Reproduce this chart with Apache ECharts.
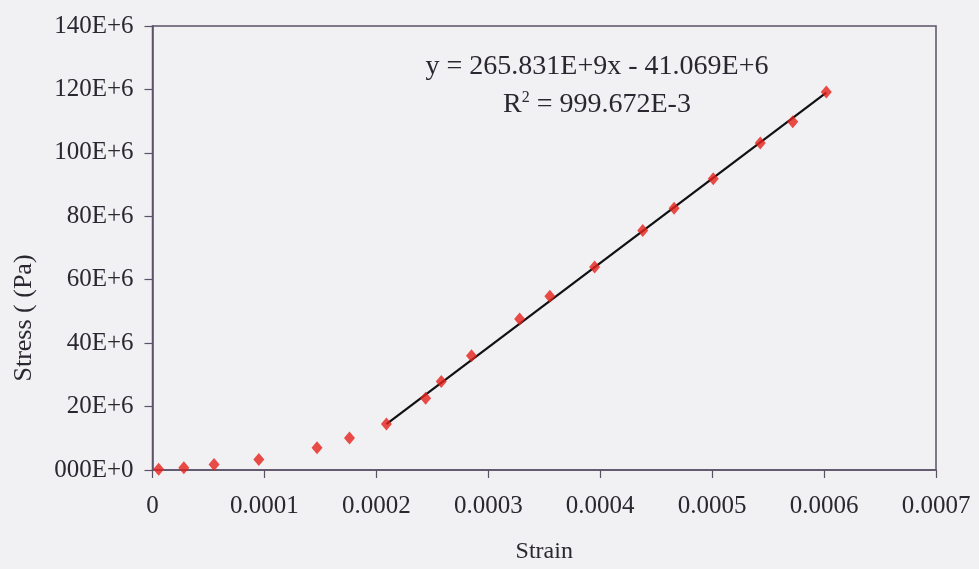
<!DOCTYPE html>
<html>
<head>
<meta charset="utf-8">
<script src="https://cdn.jsdelivr.net/npm/echarts@6/dist/echarts.min.js"></script>
<style>
  html, body { margin: 0; padding: 0; background: #f1f0f3; }
  #chart { width: 979px; height: 569px; }
</style>
</head>
<body>
<div id="chart"></div>
<script>
// Strain / stress readings, initial (non-linear) part of the curve
const strainInitial = [0.0000055, 0.000028, 0.000055, 0.000095, 0.000147, 0.000176];
const stressInitial = [0.2e6, 0.7e6, 1.7e6, 3.3e6, 7.0e6, 10.1e6];

// Linear (elastic) part used for the fitted trendline
const strainLinear = [0.000209, 0.000244, 0.000258, 0.000285, 0.000328, 0.000355, 0.000395,
                      0.000438, 0.000466, 0.000501, 0.000543, 0.000572, 0.000602];
const stressLinear = [14.5e6, 22.6e6, 27.9e6, 36.0e6, 47.6e6, 54.8e6, 64.0e6,
                      75.5e6, 82.5e6, 91.8e6, 103.1e6, 109.8e6, 119.2e6];

// Linear fit: y = slope * x + intercept
const fitSlope = 265.831e9;
const fitIntercept = -41.069e6;
const fitR2Text = '999.672E-3';

const xTickLabels = ['0', '0.0001', '0.0002', '0.0003', '0.0004', '0.0005', '0.0006', '0.0007'];
const yTickLabels = ['000E+0', '20E+6', '40E+6', '60E+6', '80E+6', '100E+6', '120E+6', '140E+6'];

const pairs = (xs, ys) => xs.map((x, i) => [x, ys[i]]);
const fitStart = Math.min(...strainLinear);
const fitEnd = Math.max(...strainLinear);
const fitLine = [fitStart, fitEnd].map(x => [x, fitSlope * x + fitIntercept]);

const serif = '"Liberation Serif", "Times New Roman", serif';
const ink = '#2b2730';
const frame = '#5b5268';
const red = '#e6211a';

const chart = echarts.init(document.getElementById('chart'), null, { renderer: 'canvas' });
chart.setOption({
  backgroundColor: '#f1f0f3',
  animation: false,
  grid: {
    left: 152.5, right: 43, top: 26, bottom: 97.5,
    show: true, borderColor: frame, borderWidth: 1.5, backgroundColor: 'transparent'
  },
  xAxis: {
    type: 'value', min: 0, max: 0.0007, interval: 0.0001,
    name: 'Strain', nameLocation: 'middle', nameGap: 70,
    nameTextStyle: { fontFamily: serif, fontSize: 24, color: ink },
    axisLine: { show: true, lineStyle: { color: frame, width: 1.5 } },
    axisTick: { show: true, inside: false, length: 8, lineStyle: { color: frame, width: 1.2 } },
    axisLabel: {
      margin: 24, fontFamily: serif, fontSize: 25, color: ink,
      formatter: (v) => xTickLabels[Math.round(v / 0.0001)]
    },
    splitLine: { show: false }
  },
  yAxis: {
    type: 'value', min: 0, max: 140e6, interval: 20e6,
    axisLine: { show: true, lineStyle: { color: frame, width: 1.5 } },
    axisTick: { show: true, inside: false, length: 8, lineStyle: { color: frame, width: 1.2 } },
    axisLabel: {
      margin: 19, fontFamily: serif, fontSize: 25, color: ink,
      formatter: (v) => yTickLabels[Math.round(v / 20e6)]
    },
    splitLine: { show: false }
  },
  series: [
    {
      name: 'Initial', type: 'scatter', data: pairs(strainInitial, stressInitial),
      symbol: 'diamond', symbolSize: [11, 13], itemStyle: { color: red }, z: 3
    },
    {
      name: 'Linear fit', type: 'line', data: fitLine, showSymbol: false,
      lineStyle: { color: '#111111', width: 2.2 }, z: 2
    },
    {
      name: 'Linear', type: 'scatter', data: pairs(strainLinear, stressLinear),
      symbol: 'diamond', symbolSize: [11, 13], itemStyle: { color: red }, z: 3
    }
  ],
  graphic: [
    {
      // vertical axis title
      type: 'text', x: 24, y: 318, rotation: Math.PI / 2,
      style: {
        text: 'Stress ( (Pa)', font: '26px ' + serif, fill: ink,
        align: 'center', verticalAlign: 'middle'
      }
    },
    {
      type: 'text', x: 597, y: 67,
      style: {
        text: 'y = 265.831E+9x - 41.069E+6',
        font: '28px ' + serif, fill: ink, align: 'center', verticalAlign: 'middle'
      }
    },
    {
      type: 'text', x: 597, y: 105,
      style: {
        text: 'R{sup|2} = ' + fitR2Text,
        font: '28px ' + serif, fill: ink, align: 'center', verticalAlign: 'middle',
        rich: { sup: { fontSize: 16, fontFamily: serif, verticalAlign: 'top', padding: [0, 0, 14, 0], fill: ink } }
      }
    }
  ]
});
</script>
</body>
</html>
